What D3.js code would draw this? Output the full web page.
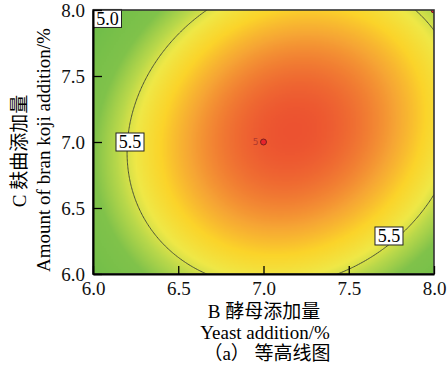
<!DOCTYPE html>
<html>
<head>
<meta charset="utf-8">
<script src="https://cdn.jsdelivr.net/npm/d3@7"></script>
<style>
  body { margin: 0; background: #fff; }
  svg { display: block; }
</style>
</head>
<body>
<figure id="contour" style="margin:0"></figure>
<script>
// axis ticks (B = yeast addition, C = bran koji addition)
const xTicks = [6.0, 6.5, 7.0, 7.5, 8.0];
const yTicks = [6.0, 6.5, 7.0, 7.5, 8.0];

// fitted quadratic model in coded units: [a, b, c, d, e, g]
// y = a + b*x + c*z + d*x^2 + e*z^2 + g*x*z
const coefs = [5.929, 0.157, 0.036, -0.477, -0.324, 0.109];

// contour levels and where their labels sit
const levels = [5.0, 5.5];
const labels = [
  {text: "5.0", B: 6.085, C: 7.936},
  {text: "5.5", B: 6.217, C: 7.0},
  {text: "5.5", B: 7.736, C: 6.288}
];

// design points
const points = [
  {B: 7.0, C: 7.0, n: "5"},
  {B: 8.0, C: 8.0, n: ""}
];

const serif = "'Liberation Serif', 'Noto Sans CJK SC', serif";
const width = 447, height = 371;
const pLeft = 93, pRight = 434, pTop = 10, pBottom = 274;

const svg = d3.select("figure#contour")
  .append("svg")
  .attr("width", width)
  .attr("height", height);

const x = d3.scaleLinear().domain([6, 8]).range([pLeft, pRight]);
const y = d3.scaleLinear().domain([6, 8]).range([pBottom, pTop]);

function model(B, C) {
  const u = B - 7, v = C - 7;
  const [a, b, c, d, e, g] = coefs;
  return a + b * u + c * v + d * u * u + e * v * v + g * u * v;
}

const color = d3.scaleLinear()
  .domain([4.89, 5.3, 5.44, 5.54, 5.66, 5.77, 5.87, 5.944])
  .range(["#6abc48", "#80c24a", "#b9d84a", "#efe847", "#fbd42a", "#f6a634", "#f07632", "#ec5230"])
  .clamp(true);

// sample the surface on a grid
const nx = 200, ny = 200;
const values = new Array(nx * ny);
for (let j = 0; j < ny; j++) {
  for (let i = 0; i < nx; i++) {
    const B = x.invert(pLeft + (i / (nx - 1)) * (pRight - pLeft));
    const C = y.invert(pTop + (j / (ny - 1)) * (pBottom - pTop));
    values[j * nx + i] = model(B, C);
  }
}

// heat map through a canvas image
const canvas = document.createElement("canvas");
canvas.width = nx; canvas.height = ny;
const ctx = canvas.getContext("2d");
const img = ctx.createImageData(nx, ny);
values.forEach((v, k) => {
  const c = d3.rgb(color(v));
  img.data[k * 4] = c.r;
  img.data[k * 4 + 1] = c.g;
  img.data[k * 4 + 2] = c.b;
  img.data[k * 4 + 3] = 255;
});
ctx.putImageData(img, 0, 0);

svg.append("clipPath").attr("id", "plotclip")
  .append("rect")
  .attr("x", pLeft).attr("y", pTop)
  .attr("width", pRight - pLeft).attr("height", pBottom - pTop);

svg.append("image")
  .attr("href", canvas.toDataURL())
  .attr("x", pLeft).attr("y", pTop)
  .attr("width", pRight - pLeft).attr("height", pBottom - pTop)
  .attr("preserveAspectRatio", "none");

// contour lines
const contours = d3.contours().size([nx, ny]).thresholds(levels)(values);
const gx = d3.scaleLinear().domain([0.5, nx - 0.5]).range([pLeft, pRight]);
const gy = d3.scaleLinear().domain([0.5, ny - 0.5]).range([pTop, pBottom]);
const path = d3.geoPath(d3.geoTransform({
  point: function(px, py) { this.stream.point(gx(px), gy(py)); }
}));

svg.append("g")
  .attr("clip-path", "url(#plotclip)")
  .selectAll("path")
  .data(contours)
  .enter()
  .append("path")
  .attr("d", path)
  .attr("fill", "none")
  .attr("stroke", "#4b5236")
  .attr("stroke-width", 1);

// design points
const pg = svg.append("g");
pg.selectAll("circle")
  .data(points)
  .enter()
  .append("circle")
  .attr("cx", d => x(d.B))
  .attr("cy", d => y(d.C))
  .attr("r", 3)
  .attr("fill", "#e8242c")
  .attr("stroke", "#5a1a1a")
  .attr("stroke-width", 0.8)
  .attr("clip-path", "url(#plotclip)");
pg.selectAll("text")
  .data(points)
  .enter()
  .append("text")
  .attr("x", d => x(d.B) - 5)
  .attr("y", d => y(d.C) + 3)
  .attr("text-anchor", "end")
  .style("font-family", "'DejaVu Sans', sans-serif")
  .style("font-size", "9px")
  .attr("fill", "#b03a2e")
  .text(d => d.n);

// contour labels
const lg = svg.append("g").selectAll("g")
  .data(labels)
  .enter()
  .append("g")
  .attr("transform", d => "translate(" + x(d.B) + "," + y(d.C) + ")");
lg.append("rect")
  .attr("x", -14).attr("y", -9)
  .attr("width", 28).attr("height", 18)
  .attr("fill", "#fff")
  .attr("stroke", "#222")
  .attr("stroke-width", 1);
lg.append("text")
  .attr("text-anchor", "middle")
  .attr("dy", "0.36em")
  .style("font-family", serif)
  .style("font-size", "18px")
  .text(d => d.text);

// frame
svg.append("rect")
  .attr("x", pLeft).attr("y", pTop)
  .attr("width", pRight - pLeft).attr("height", pBottom - pTop)
  .attr("fill", "none")
  .attr("stroke", "#333")
  .attr("stroke-width", 1.6);

// axes with inward ticks
const xAxis = svg.append("g")
  .attr("transform", "translate(0," + pBottom + ")")
  .call(d3.axisBottom(x).tickValues(xTicks).tickSizeInner(-8).tickSizeOuter(0).tickPadding(8).tickFormat(d3.format(".1f")));
const yAxis = svg.append("g")
  .attr("transform", "translate(" + pLeft + ",0)")
  .call(d3.axisLeft(y).tickValues(yTicks).tickSizeInner(-9).tickSizeOuter(0).tickPadding(8).tickFormat(d3.format(".1f")));
[xAxis, yAxis].forEach(a => {
  a.attr("font-family", null);
  a.select(".domain").attr("stroke", "#000").attr("stroke-width", 2);
  a.selectAll(".tick line").attr("stroke", "#000").attr("stroke-width", 1.3);
  a.selectAll("text").style("font-family", serif).style("font-size", "19px").attr("fill", "#111");
});

// axis titles
const titles = [
  {t: "B 酵母添加量", x: 264, y: 318, r: 0},
  {t: "Yeast addition/%", x: 265, y: 339, r: 0},
  {t: "（a） 等高线图", x: 267, y: 360, r: 0},
  {t: "C 麸曲添加量", x: 26, y: 151, r: -90},
  {t: "Amount of bran koji addition/%", x: 50, y: 150, r: -90}
];
svg.append("g").selectAll("text")
  .data(titles)
  .enter()
  .append("text")
  .attr("transform", d => "translate(" + d.x + "," + d.y + ") rotate(" + d.r + ")")
  .attr("text-anchor", "middle")
  .style("font-family", serif)
  .style("font-size", "19px")
  .text(d => d.t);
</script>
</body>
</html>
